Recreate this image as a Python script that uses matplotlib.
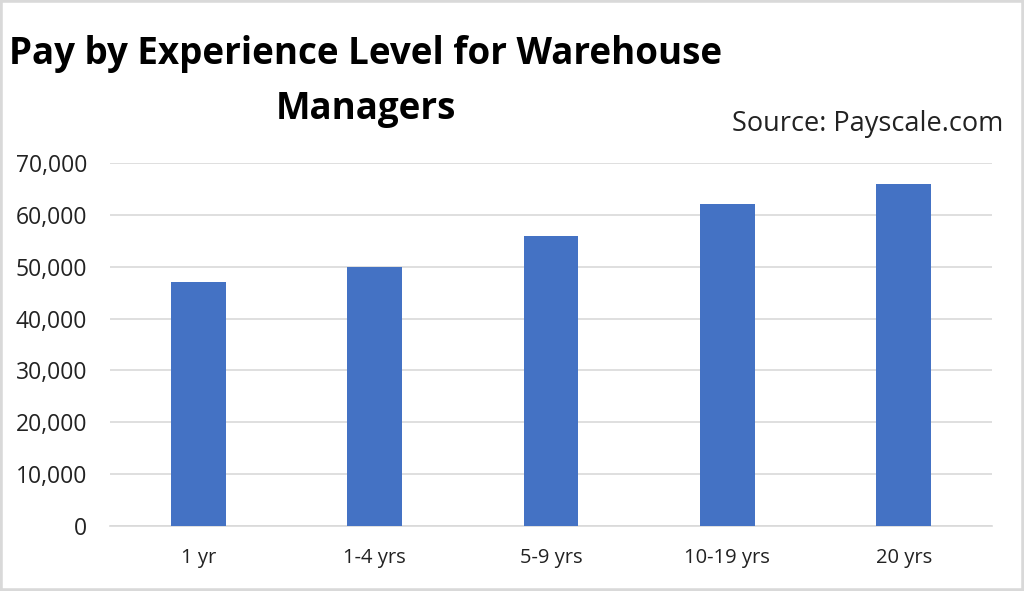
import matplotlib.pyplot as plt
from matplotlib.patches import Rectangle
from matplotlib.ticker import FuncFormatter

categories = ['1 yr', '1-4 yrs', '5-9 yrs', '10-19 yrs', '20 yrs']
pay = [47000, 50000, 56000, 62000, 66000]
y_ticks = [0, 10000, 20000, 30000, 40000, 50000, 60000, 70000]

plt.rcParams['font.family'] = ['Open Sans', 'DejaVu Sans']

fig = plt.figure(figsize=(10.24, 5.91), dpi=100)
ax = fig.add_axes([110 / 1024, 65 / 591, 882 / 1024, 363 / 591])

x = range(len(categories))
ax.bar(x, pay, width=0.31, color='#4472C4', zorder=3)

ax.set_xlim(-0.5, len(categories) - 0.5)
ax.set_ylim(0, 70000)
ax.set_yticks(y_ticks)
ax.yaxis.set_major_formatter(FuncFormatter(lambda v, p: f'{int(v):,}'))
ax.set_xticks(list(x))
ax.set_xticklabels(categories)
ax.tick_params(axis='both', length=0, colors='#222222')
ax.tick_params(axis='y', pad=16.5, labelsize=16.5)
ax.tick_params(axis='x', pad=16, labelsize=14.5)

ax.grid(axis='y', color='#d9d9d9', linewidth=1.2, zorder=0)
for side in ['top', 'right', 'left']:
    ax.spines[side].set_visible(False)
ax.spines['bottom'].set_color('#d9d9d9')
ax.spines['bottom'].set_linewidth(1.2)

# Title (two lines, centred left of middle)
fig.text(366 / 1024, 1 - 54 / 591, 'Pay by Experience Level for Warehouse',
         ha='center', va='center', fontsize=26.5, fontweight='bold')
fig.text(366 / 1024, 1 - 109 / 591, 'Managers',
         ha='center', va='center', fontsize=26.5, fontweight='bold')
fig.text(1003 / 1024, 1 - 124 / 591, 'Source: Payscale.com',
         ha='right', va='center', fontsize=19.5, color='#222222')

# light frame around the picture
fig.patches.append(Rectangle((0, 0), 1, 1, transform=fig.transFigure,
                             fill=False, edgecolor='#d9d9d9', linewidth=4))

fig.savefig('out.png', dpi=100, facecolor='white')
